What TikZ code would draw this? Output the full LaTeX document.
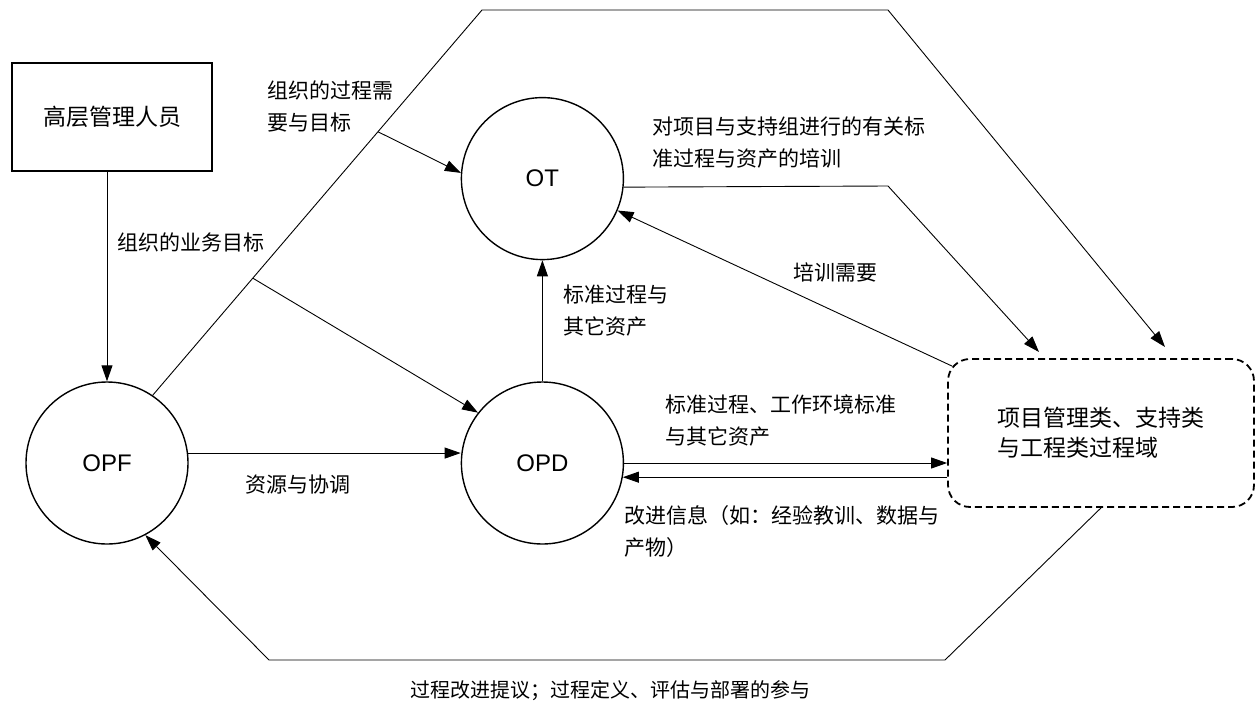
\documentclass[tikz,border=0pt]{standalone}
\usepackage{fontspec}
\setmainfont{Liberation Sans}
\newfontfamily\cjk{Noto Sans CJK SC}
\usetikzlibrary{arrows.meta,positioning,calc}

\begin{document}
\begin{tikzpicture}[
      x=1pt,y=-1pt,
      line width=0.9pt,
      box/.style={draw,line width=1.4pt,minimum width=200pt,minimum height=108pt,font=\cjk\fontsize{23}{30}\selectfont},
      proc/.style={draw,circle,line width=1.4pt,minimum size=162pt,inner sep=0pt,font=\fontsize{24}{28}\selectfont},
      area/.style={draw,dash pattern=on 7pt off 4pt,line width=1.8pt,rounded corners=22pt,minimum width=306pt,minimum height=148pt,align=left,font=\cjk\fontsize{23}{30}\selectfont},
      lbl/.style={anchor=west,align=left,inner sep=0pt,font=\cjk\fontsize{21}{32}\selectfont},
      >={Triangle[length=16pt,width=11pt]}
    ]
      \useasboundingbox (0,0) rectangle (1258,702);

      % Process areas
      \node[box] (mgr) at (112,117) {高层管理人员};
      \node[proc] (opf) at (107,463) {OPF};
      \node[proc,right=272pt of opf] (opd) {OPD};
      \node[proc,above=121pt of opd] (ot) {OT};
      \node[area] (pa) at (1101,433) {项目管理类、支持类\\与工程类过程域};

      % Bend points
      \coordinate (tl) at (482,10);
      \coordinate (tr) at (888,10);
      \coordinate (pa-in1) at (1165,347);
      \coordinate (otr) at (888,186);
      \coordinate (pa-in2) at (1039,352);
      \coordinate (br) at (945,660);
      \coordinate (bl) at (269,660);
      \coordinate (br1) at ($(opf.56)!0.684!(tl)$);
      \coordinate (br2) at ($(opf.56)!0.304!(tl)$);

      % Flows
      \draw[->] (opf.north |- mgr.south) -- (opf.north);
      \draw[->] (opf.56) -- (tl) -- (tr) -- (pa-in1);
      \draw[->] (br1) -- (ot.176);
      \draw[->] (br2) -- (opd.142);
      \draw[->] (opf.7) -- (opf.7 -| opd.west);
      \draw[->] (opd.north) -- (ot.south);
      \draw[->] (ot.-6) -- (otr) -- (pa-in2);
      \draw[->] ([shift={(5pt,-8pt)}]pa.north west) -- (ot.-23);
      \draw[->] (opd.east) -- (opd.east -| pa.west);
      \draw[->] (pa.west |- opd.-10) -- (opd.-10);
      \draw[->] (pa.south) -- (br) -- (bl) -- (opf.-62);

      % Labels
      \node[lbl] (l-biz) at (117,242) {组织的业务目标};
      \node[lbl] (l-need) at (267,106) {组织的过程需\\要与目标};
      \node[lbl] (l-res) at (245,485) {资源与协调};
      \node[lbl] (l-std) at (563,311) {标准过程与\\其它资产};
      \node[lbl] (l-train) at (652,143) {对项目与支持组进行的有关标\\准过程与资产的培训};
      \node[lbl] (l-tneed) at (793,272) {培训需要};
      \node[lbl] (l-env) at (665,421) {标准过程、工作环境标准\\与其它资产};
      \node[lbl] (l-imp) at (624,532) {改进信息（如：经验教训、数据与\\产物）};
      \node[lbl,anchor=center,font=\cjk\fontsize{20}{30}\selectfont] (l-prop) at (610,691) {过程改进提议；过程定义、评估与部署的参与};
    \end{tikzpicture}
\end{document}
